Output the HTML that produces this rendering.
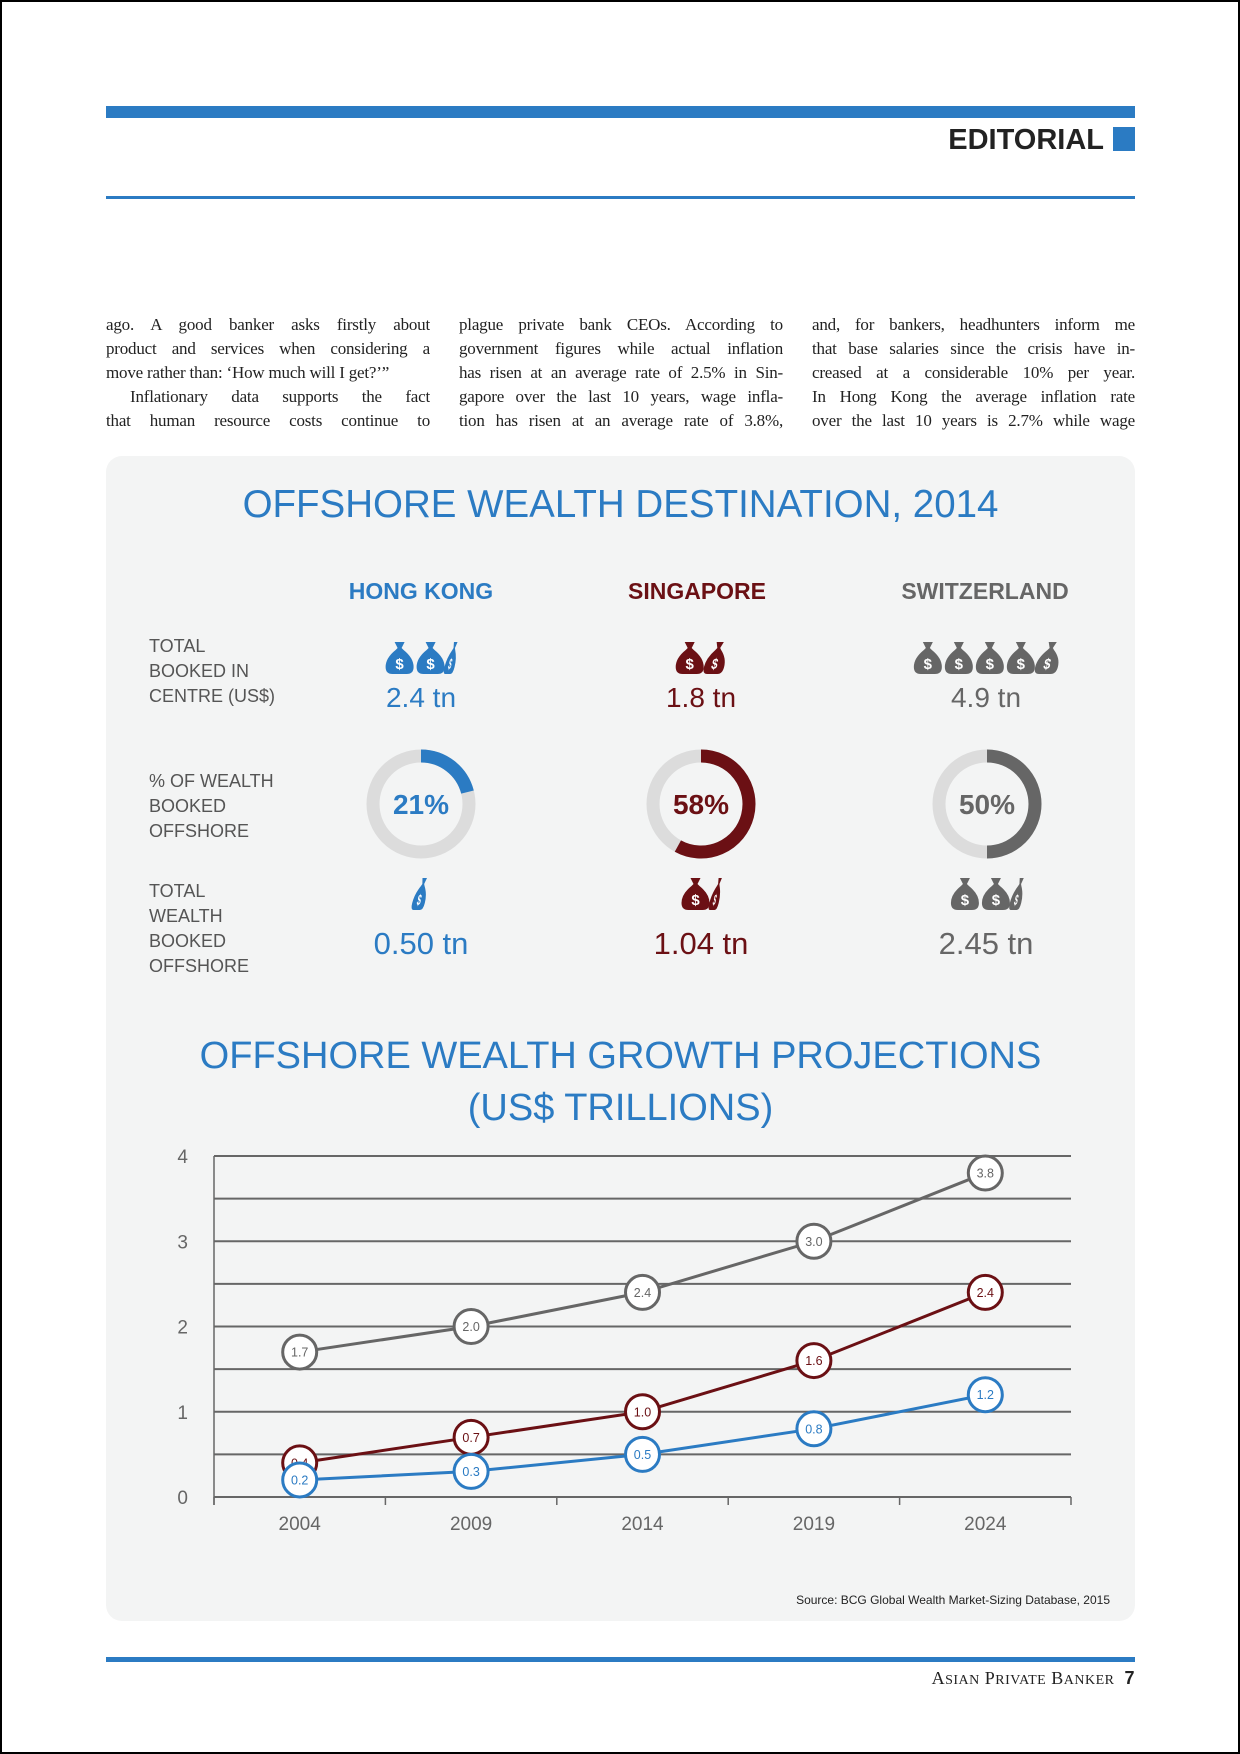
<!DOCTYPE html>
<html><head><meta charset="utf-8">
<style>
*{margin:0;padding:0;box-sizing:border-box}
body{width:1240px;height:1754px;position:relative;background:#fff;font-family:"Liberation Sans",sans-serif;overflow:hidden}
.abs{position:absolute}
.frame{left:0;top:0;width:1240px;height:1754px;border:2px solid #000}
.line{font-family:"Liberation Serif",serif;font-size:17px;color:#222;height:24px;line-height:24px;text-align:justify;text-align-last:justify;white-space:nowrap;overflow:hidden;letter-spacing:-0.2px}
.lbl{font-size:18px;color:#555;line-height:25px;font-weight:300}
.hdr{font-weight:bold;font-size:23px;text-align:center;width:300px}
.val{font-size:28px;text-align:center;width:300px}
.val2{font-size:31px;text-align:center;width:300px}
</style></head><body>
<div class="abs frame"></div>
<div class="abs" style="left:106px;top:106px;width:1029px;height:12px;background:#2b7bc3"></div>
<div class="abs" style="right:136px;top:124px;font-weight:bold;font-size:29px;color:#222">EDITORIAL</div>
<div class="abs" style="left:1113px;top:127px;width:22px;height:24px;background:#2b7bc3"></div>
<div class="abs" style="left:106px;top:196px;width:1029px;height:3px;background:#2b7bc3"></div>

<div class="abs" style="left:106px;top:313px;width:324px">
<div class="line">ago. A good banker asks firstly about</div>
<div class="line">product and services when considering a</div>
<div class="line" style="text-align-last:left">move rather than: ‘How much will I get?’”</div>
<div class="line" style="padding-left:24px">Inflationary data supports the fact</div>
<div class="line">that human resource costs continue to</div>
</div>
<div class="abs" style="left:459px;top:313px;width:324px">
<div class="line">plague private bank CEOs. According to</div>
<div class="line">government figures while actual inflation</div>
<div class="line">has risen at an average rate of 2.5% in Sin-</div>
<div class="line">gapore over the last 10 years, wage infla-</div>
<div class="line">tion has risen at an average rate of 3.8%,</div>
</div>
<div class="abs" style="left:812px;top:313px;width:323px">
<div class="line">and, for bankers, headhunters inform me</div>
<div class="line">that base salaries since the crisis have in-</div>
<div class="line">creased at a considerable 10% per year.</div>
<div class="line">In Hong Kong the average inflation rate</div>
<div class="line">over the last 10 years is 2.7% while wage</div>
</div>

<div class="abs" style="left:106px;top:456px;width:1029px;height:1165px;background:#f3f4f4;border-radius:16px"></div>
<div class="abs" style="left:106px;top:483px;width:1029px;text-align:center;font-size:38.5px;color:#2b7bc3;font-weight:300">OFFSHORE WEALTH DESTINATION, 2014</div>

<div class="abs hdr" style="left:271px;top:578px;color:#2b7bc3">HONG KONG</div>
<div class="abs hdr" style="left:547px;top:578px;color:#6b1014">SINGAPORE</div>
<div class="abs hdr" style="left:835px;top:578px;color:#666">SWITZERLAND</div>

<div class="abs lbl" style="left:149px;top:634px">TOTAL<br>BOOKED IN<br>CENTRE (US$)</div>
<div class="abs lbl" style="left:149px;top:769px">% OF WEALTH<br>BOOKED<br>OFFSHORE</div>
<div class="abs lbl" style="left:149px;top:879px">TOTAL<br>WEALTH<br>BOOKED<br>OFFSHORE</div>

<svg class="abs" style="left:0;top:0" width="1240" height="1000">
<g id="bags"></g>
<g id="donuts"></g>
</svg>

<div class="abs val" style="left:271px;top:682px;color:#2b7bc3">2.4 tn</div>
<div class="abs val" style="left:551px;top:682px;color:#6b1014">1.8 tn</div>
<div class="abs val" style="left:836px;top:682px;color:#666">4.9 tn</div>
<div class="abs val2" style="left:271px;top:926px;color:#2b7bc3">0.50 tn</div>
<div class="abs val2" style="left:551px;top:926px;color:#6b1014">1.04 tn</div>
<div class="abs val2" style="left:836px;top:926px;color:#666">2.45 tn</div>

<div class="abs" style="left:106px;top:1030px;width:1029px;text-align:center;font-size:38px;line-height:52px;color:#2b7bc3;font-weight:300">OFFSHORE WEALTH GROWTH PROJECTIONS<br>(US$ TRILLIONS)</div>

<svg class="abs" id="chart" style="left:0;top:1100px" width="1240" height="460"></svg>

<div class="abs" style="right:130px;top:1593px;font-size:12px;color:#222">Source: BCG Global Wealth Market-Sizing Database, 2015</div>
<div class="abs" style="left:106px;top:1657px;width:1029px;height:5px;background:#2b7bc3"></div>
<div class="abs" style="right:105px;top:1668px;font-family:'Liberation Serif',serif;font-size:18px;color:#222;letter-spacing:0.5px">A<span style="font-size:14px">SIAN</span> P<span style="font-size:14px">RIVATE</span> B<span style="font-size:14px">ANKER</span>&nbsp; <b style="font-family:'Liberation Sans'">7</b></div>

<script>
// Destination data
const centres = ['Hong Kong','Singapore','Switzerland'];
const centreColors = ['#2b7bc3','#6b1014','#666666'];
const bookedInCentre = [2.4, 1.8, 4.9];
const pctOffshore = [21, 58, 50];
const bookedOffshore = [0.50, 1.04, 2.45];
const centreX = [421, 701, 987];

const NS='http://www.w3.org/2000/svg';
function mk(tag, attrs, parent){const e=document.createElementNS(NS,tag);for(const k in attrs)e.setAttribute(k,attrs[k]);parent.appendChild(e);return e;}
const bagsG=document.getElementById('bags');
const BAG='M10 1 L20 1 L17 7 L19 9 Q29 17 29 26 Q29 33 22 33 L8 33 Q1 33 1 26 Q1 17 11 9 L13 7 Z';
function drawBags(val, cx, y, color, kind){
  const w=30, gap=1;
  const n=Math.ceil(val-0.001);
  const widths=[];
  for(let b=0;b<n;b++){const f=Math.min(1,val-b);widths.push(f>=1?w:Math.max(10,w*f*0.9));}
  const total=widths.reduce((a,b)=>a+b,0)+(n-1)*gap;
  let x=cx-total/2;
  for(let b=0;b<n;b++){
    const frac=Math.min(1,val-b);
    const sx=widths[b]/w;
    const tr=frac>=1?`translate(${x},${y})`:`translate(${x+4},${y}) skewX(-14) scale(${sx},1)`;
    const g=mk('g',{transform:tr},bagsG);
    
    
    mk('path',{d:BAG,fill:color},g);
    const t=mk('text',{x:15,y:28,'font-size':15,'font-weight':'bold','text-anchor':'middle',fill:'#fff','font-family':'Liberation Sans'},g);
    t.textContent='$';
    x+=widths[b]+gap;
  }
}
centres.forEach((c,i)=>{
  drawBags(bookedInCentre[i], centreX[i], 641, centreColors[i], 'centre');
  drawBags(bookedOffshore[i], centreX[i], 877, centreColors[i], 'offshore');
});
const dG=document.getElementById('donuts');
centres.forEach((c,i)=>{
  const cx=centreX[i], cy=804, r=48;
  const bg=mk('circle',{cx:cx,cy:cy,r:r,fill:'none',stroke:'#dcdcdc','stroke-width':13},dG);
  
  
  const a=pctOffshore[i]/100*2*Math.PI;
  const x=cx+r*Math.sin(a), y=cy-r*Math.cos(a);
  const arc=mk('path',{d:`M${cx} ${cy-r} A${r} ${r} 0 ${a>Math.PI?1:0} 1 ${x} ${y}`,fill:'none',stroke:centreColors[i],'stroke-width':13},dG);
  
  
  const t=mk('text',{x:cx,y:cy+10,'text-anchor':'middle','font-size':28,'font-weight':'bold',fill:centreColors[i],'font-family':'Liberation Sans'},dG);
  t.textContent=pctOffshore[i]+'%';
  
  
});

// Growth chart data
const years = ['2004','2009','2014','2019','2024'];
const yTicks = [0,1,2,3,4];
const swissVals = [1.7, 2.0, 2.4, 3.0, 3.8];
const singaporeVals = [0.4, 0.7, 1.0, 1.6, 2.4];
const hongKongVals = [0.2, 0.3, 0.5, 0.8, 1.2];
const seriesColors = ['#666666','#6b1014','#2b7bc3'];

const svg=document.getElementById('chart');
const X0=214, X1=1071, Y0=397, Y1=56;
const bw=(X1-X0)/years.length;
const xs=i=>X0+bw*(i+0.5);
const ys=v=>Y0-(v/4)*(Y0-Y1);
for(let v=0.5; v<=4; v+=0.5){
  const l=mk('line',{x1:X0,x2:X1,y1:ys(v),y2:ys(v),stroke:'#666','stroke-width':2},svg);
  
  
}
const ax=mk('line',{x1:X0,x2:X1,y1:Y0,y2:Y0,stroke:'#666','stroke-width':2},svg);


const ay=mk('line',{x1:X0,x2:X0,y1:Y1,y2:Y0+8,stroke:'#666','stroke-width':1.5},svg);


for(let i=0;i<=years.length;i++){
  const t=mk('line',{x1:X0+bw*i,x2:X0+bw*i,y1:Y0,y2:Y0+8,stroke:'#666','stroke-width':1.5},svg);
  
  
}
yTicks.forEach(v=>{
  const t=mk('text',{x:X0-26,y:ys(v)+7,'text-anchor':'end','font-size':19,fill:'#666','font-family':'Liberation Sans'},svg);
  t.textContent=v;
  
  
});
years.forEach((y,i)=>{
  const t=mk('text',{x:xs(i),y:Y0+33,'text-anchor':'middle','font-size':19,fill:'#666','font-family':'Liberation Sans'},svg);
  t.textContent=y;
  
  
});
[swissVals,singaporeVals,hongKongVals].forEach((vals,s)=>{
  const col=seriesColors[s];
  const pl=mk('polyline',{points:vals.map((v,i)=>xs(i)+','+ys(v)).join(' '),fill:'none',stroke:col,'stroke-width':3},svg);
  
  
  vals.forEach((v,i)=>{
    const c=mk('circle',{cx:xs(i),cy:ys(v),r:17,fill:'#fff',stroke:col,'stroke-width':3},svg);
    
    
    const t=mk('text',{x:xs(i),y:ys(v)+4.5,'text-anchor':'middle','font-size':12.5,fill:col,'font-family':'Liberation Sans'},svg);
    t.textContent=v.toFixed(1);
    
    
  });
});
</script>
</body></html>
